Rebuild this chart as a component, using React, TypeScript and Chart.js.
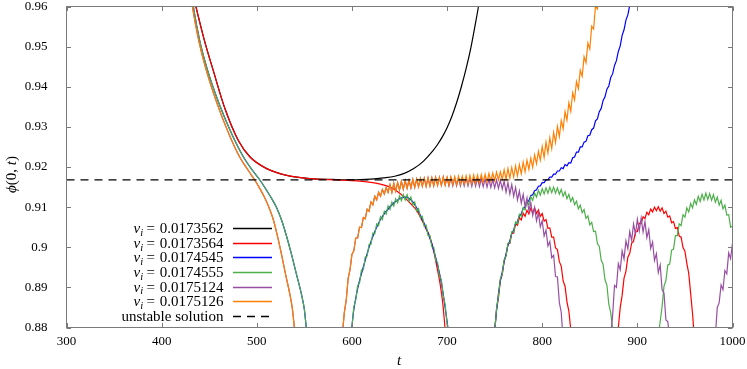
import React, { useEffect, useRef } from 'react';
import { Chart, registerables } from 'chart.js';

Chart.register(...registerables);

// ---------- axes ----------
const X_TICKS = [300, 400, 500, 600, 700, 800, 900, 1000];
const Y_TICKS = [0.88, 0.89, 0.9, 0.91, 0.92, 0.93, 0.94, 0.95, 0.96];
const LEGEND_VALUES = ['0.0173562', '0.0173564', '0.0174545', '0.0174555', '0.0175124', '0.0175126'];
const UNSTABLE_LABEL = 'unstable solution';
const UNSTABLE = 0.9168;
const STEP = 2; // sampling step (t) of the oscillating segments

// ---------- v_i = 0.0173562 (black) ----------
const blackT = [426, 436, 445, 454.3, 466.6, 480.6, 492.9, 510.4, 531.5, 556, 580, 600, 620, 633, 645, 655, 665, 675, 685, 690, 695, 700, 705, 710, 715, 720, 725, 730, 733, 736];
const blackY = [0.970, 0.960, 0.9515, 0.944, 0.9345, 0.9266, 0.9225, 0.9196, 0.9179, 0.9171, 0.9169, 0.9168, 0.9170, 0.9173, 0.9177, 0.9184, 0.9196, 0.9214, 0.9240, 0.9256, 0.9275, 0.9298, 0.9326, 0.936, 0.940, 0.9445, 0.9497, 0.956, 0.960, 0.9645];

// ---------- v_i = 0.0173564 (red) ----------
const redT = [426, 436, 445, 454.3, 466.6, 480.6, 492.9, 510.4, 531.5, 556, 570, 590, 608, 625, 640, 647, 655, 662, 668, 673, 678, 682, 686, 689, 692.6, 695.5, 697.8, 699];
const redY = [0.970, 0.960, 0.9515, 0.944, 0.9345, 0.9266, 0.9225, 0.9196, 0.9179, 0.9171, 0.9169, 0.9167, 0.9165, 0.916, 0.915, 0.914, 0.9125, 0.9108, 0.9092, 0.907, 0.9045, 0.9025, 0.899, 0.8955, 0.891, 0.886, 0.880, 0.877];
const redArch2Start = 748;
const redArch2Y = [0.8755, 0.8790, 0.8846, 0.8874, 0.8918, 0.8932, 0.8966, 0.8979, 0.9008, 0.9010, 0.9035, 0.9035, 0.9058, 0.9055, 0.9074, 0.9068, 0.9085, 0.9077, 0.9092, 0.9083, 0.9097, 0.9086, 0.9098, 0.9084, 0.9093, 0.9077, 0.9084, 0.9065, 0.9069, 0.9047, 0.9048, 0.9025, 0.9025, 0.8998, 0.8994, 0.8964, 0.8953, 0.8916, 0.8903, 0.8864, 0.8841, 0.8795, 0.8750];
const redArch3Start = 876;
const redArch3Y = [0.8730, 0.8765, 0.8800, 0.8850, 0.8880, 0.8923, 0.8940, 0.8975, 0.8985, 0.9010, 0.9015, 0.9038, 0.9039, 0.9060, 0.9059, 0.9076, 0.9072, 0.9087, 0.9081, 0.9095, 0.9088, 0.9100, 0.9091, 0.9101, 0.9090, 0.9098, 0.9084, 0.9090, 0.9075, 0.9078, 0.9061, 0.9064, 0.9047, 0.9049, 0.9028, 0.9025, 0.8999, 0.8990, 0.8960, 0.8935, 0.8885, 0.8835, 0.8770];

// ---------- v_i = 0.0174545 (blue) ----------
const blueT = [428, 433.3, 440, 447.3, 460, 473.6, 486, 496, 503.4, 510, 516, 521, 526, 531, 536.5, 542, 547.2, 550, 552, 553.5, 598, 602, 606, 612, 620, 630, 640, 650, 656, 664, 672, 680, 688, 694, 700, 703];
const blueY = [0.969, 0.960, 0.9515, 0.9449, 0.936, 0.9283, 0.9225, 0.919, 0.9167, 0.9143, 0.912, 0.9098, 0.9068, 0.903, 0.8982, 0.893, 0.888, 0.8845, 0.880, 0.877, 0.8775, 0.8845, 0.8897, 0.8951, 0.9014, 0.9069, 0.9101, 0.9121, 0.9125, 0.9113, 0.908, 0.9036, 0.8975, 0.8912, 0.8815, 0.876];
const blueArch2Start = 748;
const blueArch2Y = [0.8760, 0.8792, 0.8842, 0.8884, 0.8917, 0.8938, 0.8965, 0.8983, 0.9005, 0.9016, 0.9035, 0.9043, 0.9059, 0.9064, 0.9079, 0.9083, 0.9097, 0.9100, 0.9112, 0.9116, 0.9129, 0.9131, 0.9141, 0.9143, 0.9152, 0.9153, 0.9161, 0.9161, 0.9168, 0.9168, 0.9175, 0.9175, 0.9182, 0.9182, 0.9190, 0.9190, 0.9198, 0.9196, 0.9206, 0.9203, 0.9211, 0.9210, 0.9223, 0.9225, 0.9237, 0.9237, 0.9250, 0.9250, 0.9262, 0.9264, 0.9278, 0.9279, 0.9293, 0.9297, 0.9315, 0.9320, 0.9338, 0.9346, 0.9366, 0.9375, 0.9394, 0.9402, 0.9423, 0.9432, 0.9453, 0.9465, 0.9488, 0.9502, 0.9528, 0.9542, 0.9566, 0.9579, 0.9603, 0.9615];

// ---------- v_i = 0.0174555 (green) ----------
const greenT = [428, 433.3, 440, 447.3, 460, 473.6, 486, 496, 503.4, 510, 516, 521, 526, 531, 536.5, 542, 547.2, 550, 552, 553.5];
const greenY = [0.969, 0.960, 0.9515, 0.9449, 0.936, 0.9283, 0.9225, 0.919, 0.9167, 0.9143, 0.912, 0.9098, 0.9068, 0.903, 0.8982, 0.893, 0.888, 0.8845, 0.880, 0.877];
const greenArch1Start = 598;
const greenArch1Y = [0.8775, 0.8800, 0.8852, 0.8868, 0.8904, 0.8911, 0.8943, 0.8944, 0.8976, 0.8978, 0.9007, 0.9007, 0.9035, 0.9033, 0.9058, 0.9054, 0.9076, 0.9069, 0.9090, 0.9083, 0.9103, 0.9094, 0.9113, 0.9103, 0.9121, 0.9111, 0.9128, 0.9116, 0.9131, 0.9118, 0.9131, 0.9115, 0.9125, 0.9106, 0.9113, 0.9090, 0.9096, 0.9073, 0.9077, 0.9052, 0.9055, 0.9029, 0.9029, 0.9001, 0.9000, 0.8968, 0.8962, 0.8928, 0.8919, 0.8878, 0.8857, 0.8808, 0.8770];
const greenArch2Start = 748;
const greenArch2Y = [0.8760, 0.8785, 0.8847, 0.8878, 0.8922, 0.8933, 0.8969, 0.8978, 0.9010, 0.9011, 0.9039, 0.9038, 0.9063, 0.9059, 0.9082, 0.9077, 0.9099, 0.9093, 0.9114, 0.9106, 0.9126, 0.9117, 0.9135, 0.9125, 0.9142, 0.9130, 0.9146, 0.9133, 0.9148, 0.9135, 0.9150, 0.9136, 0.9150, 0.9135, 0.9148, 0.9132, 0.9144, 0.9127, 0.9138, 0.9121, 0.9132, 0.9114, 0.9124, 0.9106, 0.9115, 0.9096, 0.9105, 0.9086, 0.9094, 0.9072, 0.9078, 0.9056, 0.9062, 0.9039, 0.9040, 0.9009, 0.9002, 0.8968, 0.8957, 0.8919, 0.8905, 0.8858, 0.8837, 0.8795, 0.8750];
const greenArch3Start = 920;
const greenArch3Y = [0.8750, 0.8780, 0.8815, 0.8852, 0.8903, 0.8917, 0.8956, 0.8958, 0.8993, 0.8995, 0.9029, 0.9029, 0.9058, 0.9054, 0.9081, 0.9075, 0.9098, 0.9088, 0.9109, 0.9098, 0.9118, 0.9107, 0.9127, 0.9114, 0.9132, 0.9118, 0.9135, 0.9119, 0.9134, 0.9117, 0.9131, 0.9112, 0.9125, 0.9105, 0.9117, 0.9096, 0.9105, 0.9080, 0.9081, 0.9050, 0.9053];

// ---------- v_i = 0.0175126 (orange) ----------
const orangeT = [427, 432.3, 439, 446, 458, 470.6, 482, 491.5, 498, 504, 509, 513, 517.5, 521.5, 526, 530.5, 535, 537.5, 539.5, 541];
const orangeY = [0.969, 0.960, 0.9515, 0.9449, 0.936, 0.9283, 0.9225, 0.919, 0.9167, 0.9143, 0.912, 0.9098, 0.9068, 0.903, 0.8982, 0.893, 0.888, 0.8845, 0.880, 0.877];
const orangeRiseStart = 590;
const orangeRiseY = [0.8785, 0.8837, 0.8868, 0.8922, 0.8944, 0.8982, 0.8991, 0.9023, 0.9023, 0.9050, 0.9049, 0.9074, 0.9071, 0.9095, 0.9090, 0.9113, 0.9106, 0.9127, 0.9118, 0.9137, 0.9127, 0.9144, 0.9133, 0.9149, 0.9137, 0.9156, 0.9137, 0.9159, 0.9140, 0.9161, 0.9143, 0.9164, 0.9145, 0.9166, 0.9147, 0.9167, 0.9148, 0.9169, 0.9149, 0.9170, 0.9151, 0.9171, 0.9152, 0.9172, 0.9152, 0.9173, 0.9153, 0.9173, 0.9153, 0.9174, 0.9154, 0.9174, 0.9154, 0.9175, 0.9155, 0.9175, 0.9155, 0.9176, 0.9156, 0.9176, 0.9156, 0.9177, 0.9157, 0.9177, 0.9158, 0.9178, 0.9158, 0.9179, 0.9159, 0.9180, 0.9160, 0.9180, 0.9161, 0.9181, 0.9162, 0.9182, 0.9163, 0.9184, 0.9164, 0.9185, 0.9166, 0.9187, 0.9168, 0.9188, 0.9169, 0.9193, 0.9169, 0.9196, 0.9172, 0.9199, 0.9175, 0.9203, 0.9178, 0.9206, 0.9183, 0.9212, 0.9188, 0.9217, 0.9194, 0.9222, 0.9199, 0.9230, 0.9208, 0.9239, 0.9217, 0.9251, 0.9224, 0.9262, 0.9235, 0.9273, 0.9246, 0.9286, 0.9261, 0.9301, 0.9276, 0.9316, 0.9295, 0.9338, 0.9317, 0.9360, 0.9339, 0.9385, 0.9367, 0.9413, 0.9395, 0.9441, 0.9426, 0.9475, 0.9460, 0.9509, 0.9494, 0.9551, 0.9544, 0.9601, 0.9594, 0.9650];

// ---------- v_i = 0.0175124 (purple) ----------
const purpleT = [427, 432.3, 439, 446, 458, 470.6, 482, 491.5, 498, 504, 509, 513, 517.5, 521.5, 526, 530.5, 535, 537.5, 539.5, 541];
const purpleY = [0.969, 0.960, 0.9515, 0.9449, 0.936, 0.9283, 0.9225, 0.919, 0.9167, 0.9143, 0.912, 0.9098, 0.9068, 0.903, 0.8982, 0.893, 0.888, 0.8845, 0.880, 0.877];
const purpleSharedCount = 55; // follows the orange run from t=590 up to t=698
const purpleLateStart = 700;
const purpleLateY = [0.9173, 0.9153, 0.9173, 0.9153, 0.9173, 0.9153, 0.9173, 0.9153, 0.9173, 0.9153, 0.9173, 0.9153, 0.9173, 0.9152, 0.9172, 0.9152, 0.9172, 0.9151, 0.9171, 0.9151, 0.9171, 0.9150, 0.9170, 0.9149, 0.9169, 0.9148, 0.9168, 0.9147, 0.9167, 0.9145, 0.9165, 0.9137, 0.9161, 0.9133, 0.9156, 0.9127, 0.9149, 0.9118, 0.9140, 0.9110, 0.9132, 0.9101, 0.9123, 0.9091, 0.9111, 0.9079, 0.9099, 0.9066, 0.9086, 0.9051, 0.9066, 0.9028, 0.9043, 0.9003, 0.9014, 0.8974, 0.8980, 0.8927, 0.8926, 0.8862, 0.8838, 0.8767, 0.8740];
const purpleArch2Start = 870;
const purpleArch2Y = [0.8720, 0.8780, 0.8830, 0.8905, 0.8900, 0.8959, 0.8944, 0.8991, 0.8971, 0.9016, 0.8996, 0.9039, 0.9017, 0.9058, 0.9033, 0.9070, 0.9041, 0.9073, 0.9038, 0.9064, 0.9024, 0.9044, 0.8997, 0.9013, 0.8967, 0.8984, 0.8937, 0.8956, 0.8894, 0.8886, 0.8819, 0.8815, 0.8770, 0.8730];
const purpleArch3Start = 980;
const purpleArch3Y = [0.8740, 0.8780, 0.8850, 0.8862, 0.8906, 0.8894, 0.8942, 0.8934, 0.8986, 0.8972, 0.9010];

// ---------- helpers ----------
const pairs = (ts: number[], ys: number[]) => ts.map((t, i) => ({ x: t, y: ys[i] }));
const run = (start: number, ys: number[]) => ys.map((y, i) => ({ x: start + i * STEP, y }));

const SERIF = "'Liberation Serif', 'DejaVu Serif', 'Times New Roman', serif";

const COLORS = ['#000000', '#ff0000', '#0000ff', '#4daf4a', '#984ea3', '#ff7f00'];

const frameAndLabels = {
  id: 'frameAndLabels',
  afterDatasetsDraw(chart: any) {
    const { ctx, chartArea } = chart;
    const { left, right, top, bottom } = chartArea;
    const xs = chart.scales.x;
    const ys = chart.scales.y;
    ctx.save();
    ctx.strokeStyle = '#7a7a7a';
    ctx.lineWidth = 1;
    ctx.setLineDash([]);
    ctx.strokeRect(left, top, right - left, bottom - top);
    const tl = 4.5;
    ctx.beginPath();
    X_TICKS.forEach((v) => {
      const x = Math.round(xs.getPixelForValue(v)) + 0.5;
      ctx.moveTo(x, bottom);
      ctx.lineTo(x, bottom - tl);
      ctx.moveTo(x, top);
      ctx.lineTo(x, top + tl);
    });
    Y_TICKS.forEach((v) => {
      const y = Math.round(ys.getPixelForValue(v)) + 0.5;
      ctx.moveTo(left, y);
      ctx.lineTo(left + tl, y);
      ctx.moveTo(right, y);
      ctx.lineTo(right - tl, y);
    });
    ctx.stroke();
    ctx.restore();
  },
  afterDraw(chart: any) {
    const { ctx } = chart;
    ctx.save();
    ctx.fillStyle = '#000';
    ctx.textBaseline = 'alphabetic';

    // legend
    const rowY0 = 228.2;
    const dy = 14.6;
    const textRight = 223.5;
    const lx0 = 233;
    const lx1 = 272;
    const big = `15px ${SERIF}`;
    const bigIt = `italic 15px ${SERIF}`;
    const small = `italic 10.5px ${SERIF}`;
    LEGEND_VALUES.forEach((val, i) => {
      const y = rowY0 + i * dy;
      const base = y + 5;
      const pieces = [
        { t: 'v', f: bigIt, d: 0, g: 0.3 },
        { t: 'i', f: small, d: 2.8, g: 3.2 },
        { t: '=', f: big, d: 0, g: 4.8 },
        { t: val, f: big, d: 0, g: 0 },
      ];
      let w = 0;
      pieces.forEach((p) => { ctx.font = p.f; w += ctx.measureText(p.t).width + p.g; });
      let x = textRight - w;
      pieces.forEach((p) => {
        ctx.font = p.f;
        ctx.fillText(p.t, x, base + p.d);
        x += ctx.measureText(p.t).width + p.g;
      });
      ctx.strokeStyle = COLORS[i];
      ctx.lineWidth = 1.3;
      ctx.setLineDash([]);
      ctx.beginPath();
      ctx.moveTo(lx0, Math.round(y) + 0.5);
      ctx.lineTo(lx1, Math.round(y) + 0.5);
      ctx.stroke();
    });
    {
      const y = rowY0 + 6 * dy;
      ctx.font = big;
      ctx.textAlign = 'right';
      ctx.fillText(UNSTABLE_LABEL, textRight, y + 5);
      ctx.textAlign = 'left';
      ctx.strokeStyle = '#000';
      ctx.lineWidth = 1.3;
      ctx.setLineDash([8, 6]);
      ctx.beginPath();
      ctx.moveTo(lx0, Math.round(y) + 0.5);
      ctx.lineTo(lx1, Math.round(y) + 0.5);
      ctx.stroke();
      ctx.setLineDash([]);
    }

    // x title
    ctx.font = `italic 15px ${SERIF}`;
    ctx.textAlign = 'center';
    ctx.fillText('t', 399, 365);

    // y title (rotated)
    ctx.translate(16, 174.5);
    ctx.rotate(-Math.PI / 2);
    const yp = [
      { t: 'ϕ', f: `italic 15px ${SERIF}` },
      { t: '(0, ', f: `15px ${SERIF}` },
      { t: 't', f: `italic 15px ${SERIF}` },
      { t: ')', f: `15px ${SERIF}` },
    ];
    let tw = 0;
    yp.forEach((p) => { ctx.font = p.f; tw += ctx.measureText(p.t).width; });
    let px = -tw / 2;
    ctx.textAlign = 'left';
    yp.forEach((p) => {
      ctx.font = p.f;
      ctx.fillText(p.t, px, 0);
      px += ctx.measureText(p.t).width;
    });
    ctx.restore();
  },
};

export default function App() {
  const ref = useRef<HTMLCanvasElement | null>(null);

  useEffect(() => {
    if (!ref.current) return;
    const line = (data: any[], color: string, order: number, smooth: boolean, extra: any = {}) => ({
      data,
      borderColor: color,
      backgroundColor: color,
      borderWidth: 1.2,
      pointRadius: 0,
      tension: smooth ? 0.4 : 0,
      cubicInterpolationMode: smooth ? 'monotone' : 'default',
      fill: false,
      order,
      ...extra,
    });

    const unstable = [{ x: X_TICKS[0], y: UNSTABLE }, { x: X_TICKS[X_TICKS.length - 1], y: UNSTABLE }];

    const datasets = [
      // black
      line(pairs(blackT, blackY), COLORS[0], 6, true),
      // red
      line(pairs(redT, redY), COLORS[1], 5, true),
      line([...run(redArch2Start, redArch2Y), ...run(redArch3Start, redArch3Y)], COLORS[1], 5, false),
      // blue
      line(pairs(blueT, blueY), COLORS[2], 4, true),
      line(run(blueArch2Start, blueArch2Y), COLORS[2], 4, false),
      // green
      line(pairs(greenT, greenY), COLORS[3], 3, true),
      line([...run(greenArch1Start, greenArch1Y), ...run(greenArch2Start, greenArch2Y), ...run(greenArch3Start, greenArch3Y)], COLORS[3], 3, false),
      // purple
      line(pairs(purpleT, purpleY), COLORS[4], 2, true),
      line([
        ...run(orangeRiseStart, orangeRiseY.slice(0, purpleSharedCount)),
        ...run(purpleLateStart, purpleLateY),
        ...run(purpleArch2Start, purpleArch2Y),
        ...run(purpleArch3Start, purpleArch3Y),
      ], COLORS[4], 2, false),
      // orange
      line(pairs(orangeT, orangeY), COLORS[5], 1, true),
      line(run(orangeRiseStart, orangeRiseY), COLORS[5], 1, false),
      // unstable solution
      line(unstable, '#000000', 0, false, { borderDash: [8, 6], borderWidth: 1.3 }),
    ];

    const chart = new Chart(ref.current, {
      type: 'line',
      data: { datasets },
      options: {
        animation: false,
        responsive: false,
        devicePixelRatio: 1,
        layout: { padding: { left: 0, right: 14.5, top: 6.5, bottom: 0 } },
        plugins: { legend: { display: false }, tooltip: { enabled: false } },
        scales: {
          x: {
            type: 'linear',
            min: 300,
            max: 1000,
            grid: { display: false },
            border: { display: false },
            afterFit: (s: any) => {
              s.height = 41.5;
              s.paddingLeft = 0;
              s.paddingRight = 0;
              s.paddingTop = 0;
              s.paddingBottom = 0;
            },
            ticks: {
              stepSize: 100,
              padding: 0,
              color: '#000',
              font: { family: SERIF, size: 13, lineHeight: 1 },
              callback: (v: any) => String(v),
            },
          },
          y: {
            type: 'linear',
            min: 0.88,
            max: 0.96,
            grid: { display: false },
            border: { display: false },
            afterFit: (s: any) => {
              s.width = 66.5;
              s.paddingLeft = 0;
              s.paddingRight = 0;
              s.paddingTop = 0;
              s.paddingBottom = 0;
            },
            ticks: {
              stepSize: 0.01,
              padding: 11,
              color: '#000',
              font: { family: SERIF, size: 13, lineHeight: 1 },
              callback: (v: any) => String(Math.round(Number(v) * 100) / 100),
            },
          },
        },
      },
      plugins: [frameAndLabels],
    } as any);
    return () => chart.destroy();
  }, []);

  return (
    <div style={{ position: 'absolute', left: 0, top: 0, width: 747, height: 369, background: '#fff' }}>
      <canvas ref={ref} width={747} height={369} style={{ width: 747, height: 369, display: 'block' }} />
    </div>
  );
}
